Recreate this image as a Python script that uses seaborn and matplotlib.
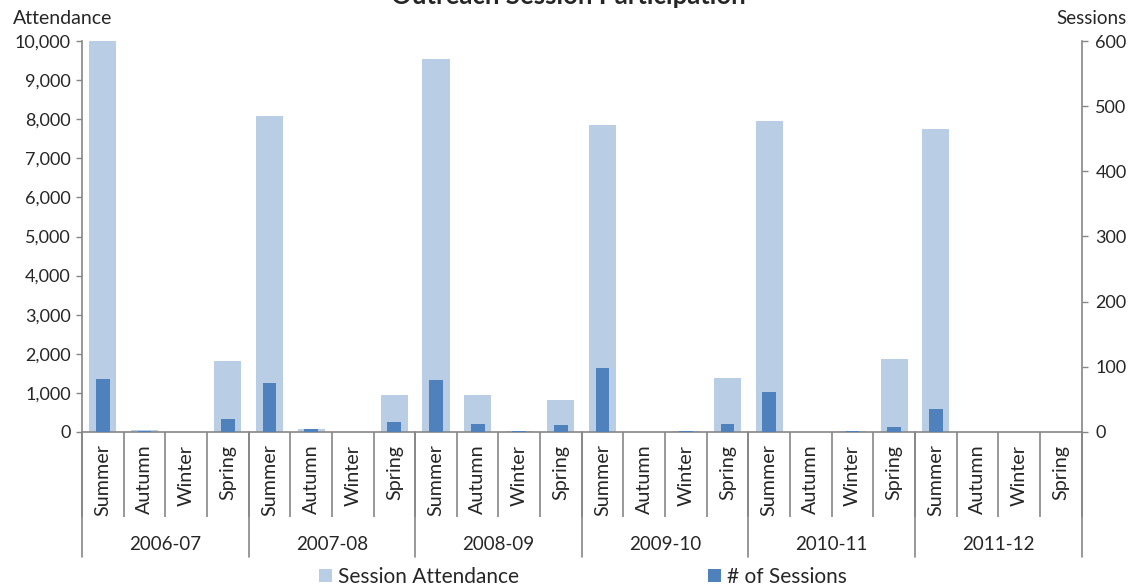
import numpy as np
import pandas as pd
import matplotlib
matplotlib.use("Agg")
import matplotlib.pyplot as plt
from matplotlib.patches import Patch
from matplotlib.lines import Line2D
from matplotlib.ticker import FuncFormatter
import seaborn as sns

# ---------------- data ----------------
years = ["2006-07", "2007-08", "2008-09", "2009-10", "2010-11", "2011-12"]
seasons = ["Summer", "Autumn", "Winter", "Spring"]
attendance = [10000, 40, 0, 1810,
              8070, 70, 0, 950,
              9530, 950, 30, 830,
              7840, 0, 30, 1370,
              7950, 0, 30, 1870,
              7750, 0, 0, 0]
sessions = [82, 1, 0, 20,
            75, 4, 0, 16,
            80, 12, 1, 10,
            98, 0, 1, 13,
            61, 0, 1, 8,
            35, 0, 0, 0]
left_ticks = [0, 1000, 2000, 3000, 4000, 5000, 6000, 7000, 8000, 9000, 10000]
right_ticks = [0, 100, 200, 300, 400, 500, 600]

labels = [f"{y} {s}" for y in years for s in seasons]
df = pd.DataFrame({"cat": labels, "attendance": attendance, "sessions": sessions})

# ---------------- style ----------------
sns.set_theme(style="white")
plt.rcParams["font.family"] = ["Lato", "DejaVu Sans"]
FS_NUM = 13
FS_TXT = 14.2
FS_LEG = 15
FS_YEAR = 13.5
GRAY = "#868686"
LIGHT = "#B9CDE5"
DARK = "#4F81BD"

W, H = 1133, 586
fig = plt.figure(figsize=(W / 100, H / 100), dpi=100)
ax = fig.add_axes([82 / W, 1 - 432 / H, (1081.5 - 82) / W, (432 - 41) / H])
ax2 = ax.twinx()

sns.barplot(data=df, x="cat", y="attendance", order=labels, color=LIGHT,
            saturation=1, width=0.65, ax=ax, errorbar=None, linewidth=0)
sns.barplot(data=df, x="cat", y="sessions", order=labels, color=DARK,
            saturation=1, width=0.33, ax=ax2, errorbar=None, linewidth=0)

n = len(labels)
ax.set_xlim(-0.5, n - 0.5)
ax.set_ylim(0, 10000)
ax2.set_ylim(0, 600)
ax.set_yticks(left_ticks)
ax2.set_yticks(right_ticks)
ax.yaxis.set_major_formatter(FuncFormatter(lambda v, p: f"{int(v):,}"))
ax.set_xlabel("")
ax.set_ylabel("")
ax2.set_xlabel("")
ax2.set_ylabel("")

# spines
for s in ["top", "right"]:
    ax.spines[s].set_visible(False)
for s in ["left", "bottom"]:
    ax.spines[s].set_color(GRAY)
    ax.spines[s].set_linewidth(1.2)
for s in ["top", "left", "bottom"]:
    ax2.spines[s].set_visible(False)
ax2.spines["right"].set_color(GRAY)
ax2.spines["right"].set_linewidth(1.2)

ax.tick_params(axis="y", which="major", direction="out", length=4, width=1,
               color=GRAY, labelsize=FS_NUM, pad=4, left=True)
ax2.tick_params(axis="y", which="major", direction="out", length=4, width=1,
                color=GRAY, labelsize=FS_NUM, pad=6, right=True)

# x-axis: separator ticks between categories, season labels at centers
ax.set_xticks(np.arange(-0.5, n, 1.0))
ax.set_xticklabels([""] * (n + 1))
ax.set_xticks(np.arange(n), minor=True)
ax.set_xticklabels(seasons * len(years), minor=True, rotation=90)
ax.tick_params(axis="x", which="major", direction="out", length=61, width=1.2,
               color=GRAY, bottom=True)
ax.tick_params(axis="x", which="minor", length=0, pad=9, labelsize=FS_TXT, bottom=True)
for lab in ax.get_xticklabels(minor=True):
    lab.set_verticalalignment("top")
    lab.set_horizontalalignment("center")

trans = ax.get_xaxis_transform()
gh = 432 - 41
for i in range(len(years) + 1):
    xb = i * len(seasons) - 0.5
    ax.add_line(Line2D([xb, xb], [0, -125 / gh], transform=trans, color=GRAY,
                       lw=1.2, clip_on=False))
for i, y in enumerate(years):
    xc = i * len(seasons) + (len(seasons) - 1) / 2
    ax.text(xc, -113 / gh, y, transform=trans, ha="center", va="center", fontsize=FS_YEAR)

# titles and axis captions
fig.text(568 / W, 1 - 3.5 / H, "Outreach Session Participation", ha="center",
         va="baseline", fontsize=18.5, fontweight="bold")
fig.text(13 / W, 1 - 18 / H, "Attendance", ha="left", va="center", fontsize=14)
fig.text(1127 / W, 1 - 18 / H, "Sessions", ha="right", va="center", fontsize=13.5)

handles = [Patch(facecolor=LIGHT, edgecolor="none"), Patch(facecolor=DARK, edgecolor="none")]
fig.legend(handles, ["Session Attendance", "# of Sessions"], loc="center",
           bbox_to_anchor=(583 / W, 1 - 577 / H), ncol=2, frameon=False,
           fontsize=FS_LEG, handlelength=0.6, handleheight=0.6, handletextpad=0.3,
           columnspacing=9.1, borderpad=0)

fig.savefig("out.png", dpi=100)
